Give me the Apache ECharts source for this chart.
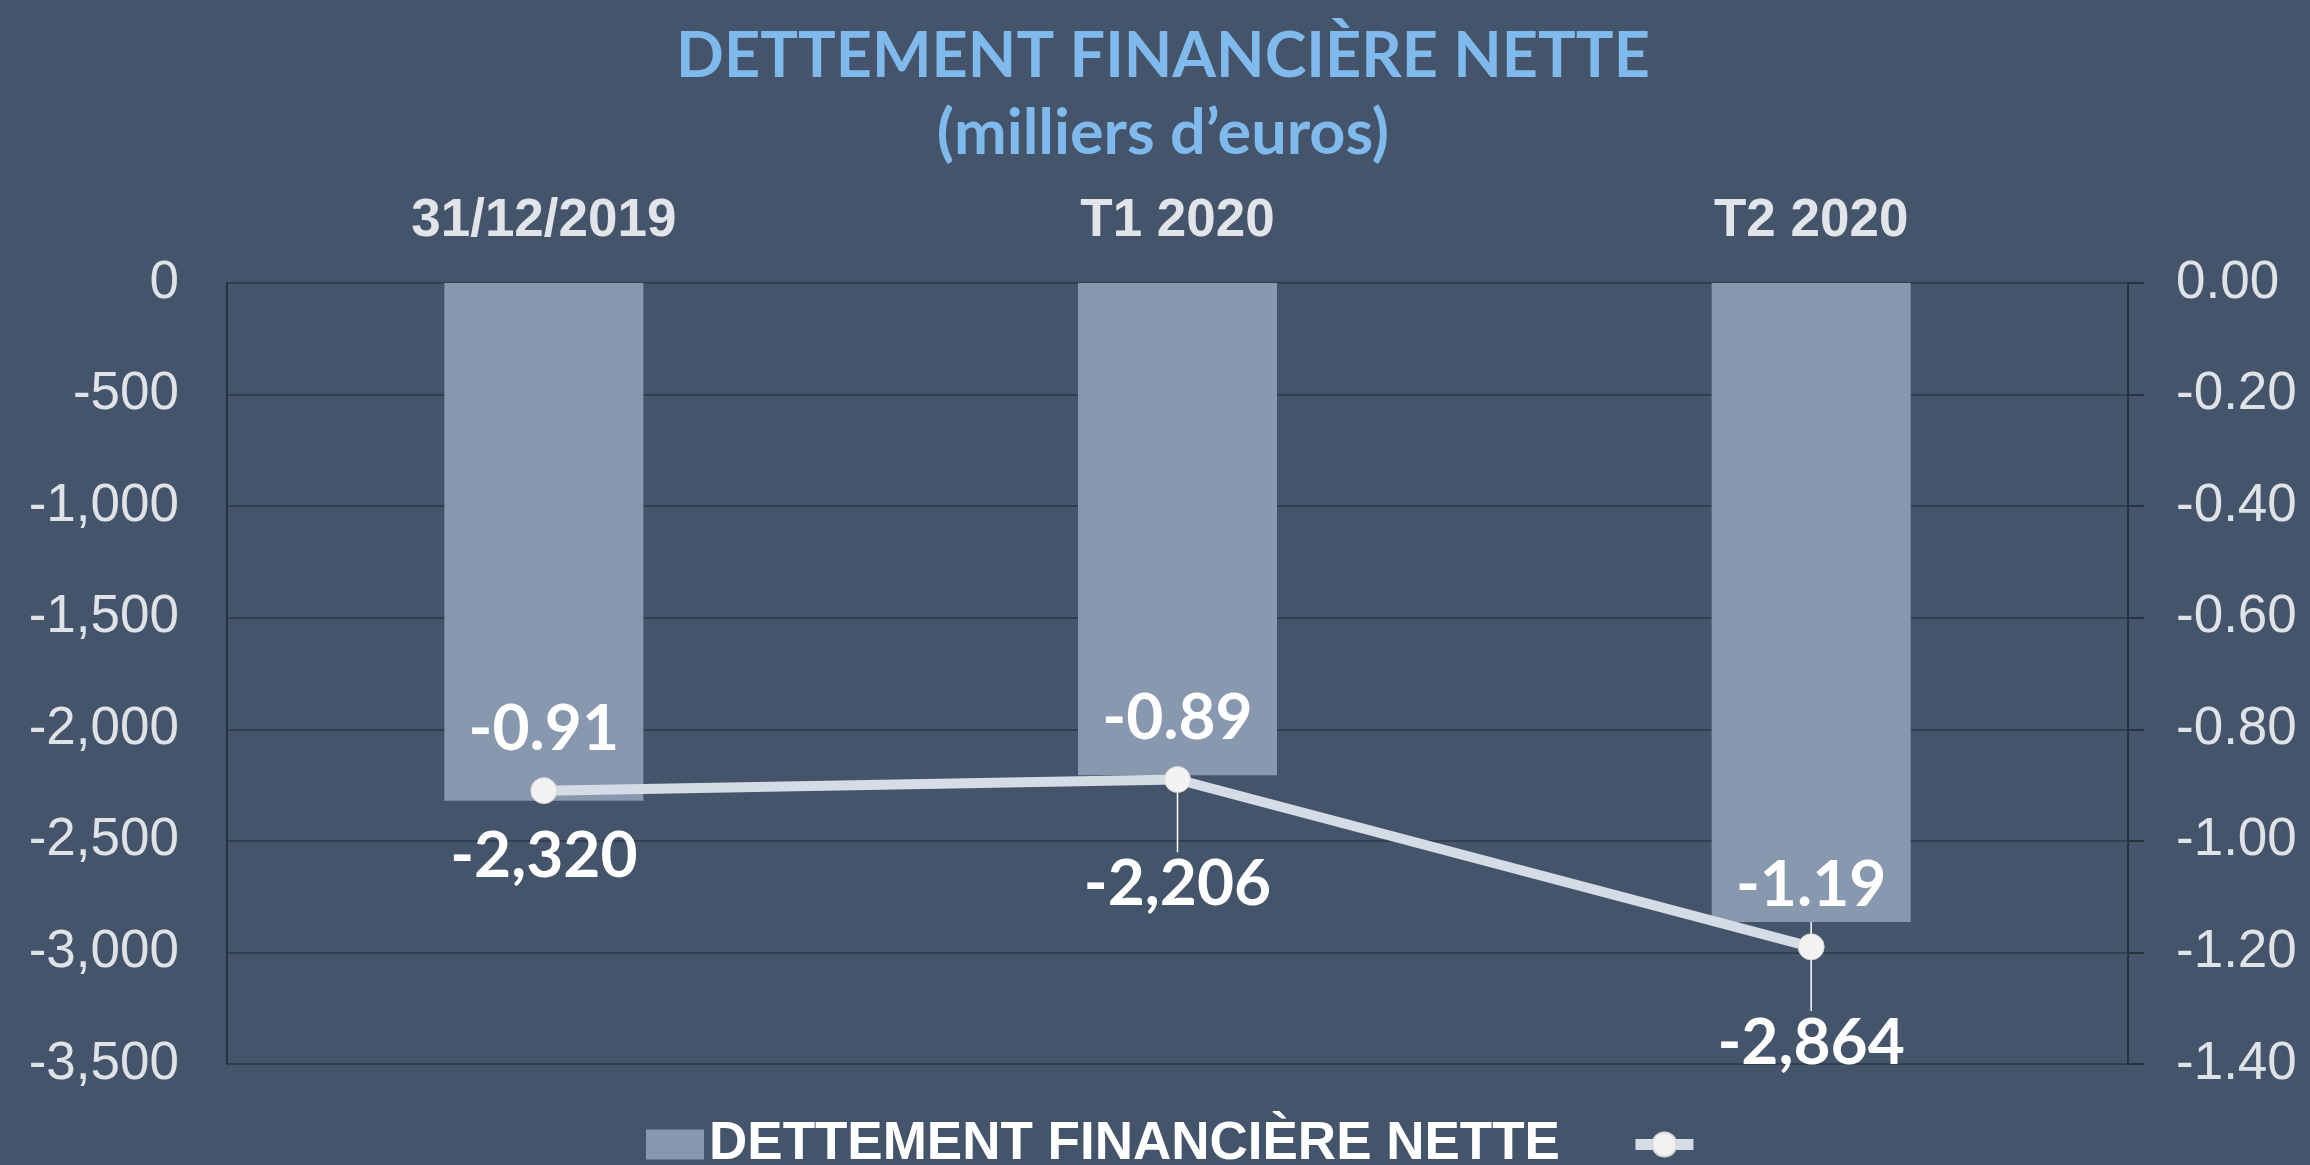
<!DOCTYPE html>
<html>
<head>
<meta charset="utf-8">
<script src="https://cdn.jsdelivr.net/npm/echarts@6/dist/echarts.min.js"></script>
<style>
html,body{margin:0;padding:0;background:#44546A;}
#main{width:2310px;height:1165px;}
</style>
</head>
<body>
<div id="main"></div>
<script>
const categories = ['31/12/2019', 'T1 2020', 'T2 2020'];
const detteValues = [-2320, -2206, -2864];
const ratioValues = [-0.91, -0.89, -1.19];
const barSeriesName = 'DETTEMENT FINANCIÈRE NETTE';
const lineSeriesName = ' ';
const titleText = 'DETTEMENT FINANCIÈRE NETTE\n(milliers d’euros)';
const leftAxisMin = -3500, leftAxisMax = 0, leftAxisInterval = 500;
const rightAxisMin = -1.4, rightAxisMax = 0, rightAxisInterval = 0.2;
// label placement below the bar end (layout, not data)
const barLabelGap = [56, 109, 121];
const barLabelGuide = [false, true, true];

const fmtThousands = v => {
  const s = Math.abs(Math.round(v)).toString().replace(/\B(?=(\d{3})+(?!\d))/g, ',');
  return (v < 0 ? '-' : '') + s;
};

const chart = echarts.init(document.getElementById('main'), null, {renderer: 'canvas'});
const axisLabelStyle = {color: '#DFE2E6', fontSize: 53, fontFamily: '"Liberation Sans", Arial, sans-serif'};
const gridColor = '#333F50';

chart.setOption({
  backgroundColor: '#44546A',
  animation: false,
  title: {
    text: titleText,
    left: 1163,
    textAlign: 'center',
    top: 18,
    padding: 0,
    textStyle: {color: '#80B9EC', fontSize: 63, fontWeight: 'bold', fontFamily: 'Lato, sans-serif', lineHeight: 77}
  },
  legend: {
    left: 641,
    top: 1113,
    itemWidth: 58,
    itemHeight: 30,
    itemGap: 70,
    data: [
      {name: barSeriesName, icon: 'rect'},
      {name: lineSeriesName, lineStyle: {width: 11, color: '#D6DCE5'}}
    ],
    textStyle: {color: '#FFFFFF', fontSize: 53, fontWeight: 'bold', fontFamily: '"Liberation Sans", Arial, sans-serif'}
  },
  grid: {left: 227, right: 182, top: 283, bottom: 101, containLabel: false},
  xAxis: {
    type: 'category',
    data: categories,
    position: 'top',
    axisLine: {show: false, onZero: false},
    axisTick: {show: false},
    axisLabel: {color: '#E1E4E8', fontSize: 53, fontWeight: 'bold', fontFamily: '"Liberation Sans", Arial, sans-serif', margin: 35}
  },
  yAxis: [
    {
      type: 'value',
      min: leftAxisMin, max: leftAxisMax, interval: leftAxisInterval,
      axisLine: {show: true, lineStyle: {color: '#27313D', width: 2}},
      axisTick: {show: false},
      splitLine: {show: true, lineStyle: {color: gridColor, width: 2}},
      axisLabel: Object.assign({margin: 48, formatter: fmtThousands}, axisLabelStyle)
    },
    {
      type: 'value',
      min: rightAxisMin, max: rightAxisMax, interval: rightAxisInterval,
      position: 'right',
      axisLine: {show: true, lineStyle: {color: '#27313D', width: 2}},
      axisTick: {show: true, length: 16, lineStyle: {color: '#27313D', width: 2}},
      splitLine: {show: false},
      axisLabel: Object.assign({margin: 48, formatter: v => v.toFixed(2)}, axisLabelStyle)
    }
  ],
  series: [
    {
      name: barSeriesName,
      type: 'bar',
      yAxisIndex: 0,
      barWidth: 199,
      data: detteValues.map((v, i) => ({value: v, labelLine: {show: barLabelGuide[i]}})),
      itemStyle: {color: '#8798AF'},
      label: {
        show: true,
        position: 'insideBottom',
        formatter: p => fmtThousands(p.value),
        color: '#FFFFFF',
        fontSize: 64,
        fontWeight: 'bold',
        fontFamily: 'Lato, sans-serif'
      },
      labelLayout: p => ({
        x: p.rect.x + p.rect.width / 2,
        y: p.rect.y + p.rect.height + barLabelGap[p.dataIndex],
        align: 'center',
        verticalAlign: 'middle'
      }),
      labelLine: {show: true, lineStyle: {color: '#FFFFFF', width: 1.5}},
      z: 2
    },
    {
      name: lineSeriesName,
      type: 'line',
      yAxisIndex: 1,
      data: ratioValues,
      symbol: 'circle',
      symbolSize: 26,
      lineStyle: {color: '#D6DCE5', width: 10},
      itemStyle: {color: '#F2F2F2', borderColor: '#D9D9D9', borderWidth: 1},
      label: {
        show: true,
        position: 'top',
        distance: 16,
        formatter: p => p.value.toFixed(2),
        color: '#FFFFFF',
        fontSize: 64,
        fontWeight: 'bold',
        fontFamily: 'Lato, sans-serif'
      },
      z: 3
    }
  ]
});
</script>
</body>
</html>
